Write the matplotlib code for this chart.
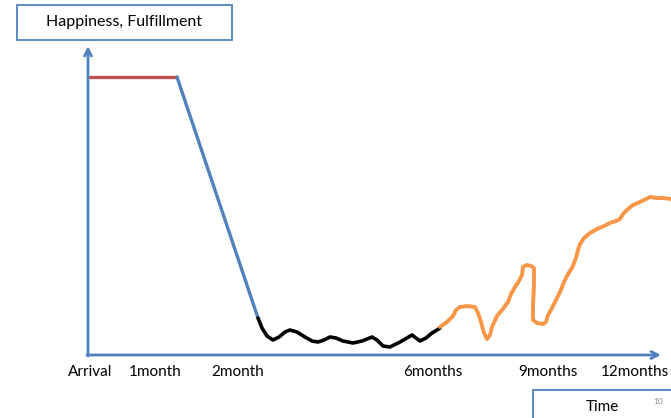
import matplotlib.pyplot as plt
from matplotlib.patches import Rectangle

# time / happiness values (origin = arrival, axis units)
tick_labels = ['Arrival', '1month', '2month', '6months', '9months', '12months']
tick_pos = [2, 67, 150, 345, 460, 547]

honeymoon = [(2, 278), (89, 278)]
crash = [(89, 278), (170, 37)]
bottom = [(170, 37), (174, 27), (179, 19), (185, 15), (191, 18), (197, 23), (202, 25),
          (209, 23), (217, 18), (224, 14), (230, 13), (236, 15), (242, 18), (248, 17),
          (255, 14), (265, 12), (274, 14), (284, 18), (289, 15), (295, 9), (302, 8),
          (312, 13), (324, 20), (328, 17), (332, 14), (338, 17), (344, 22), (349, 25),
          (352, 27)]
recovery = [(352, 28), (359, 33), (365, 39), (368, 45), (372, 48), (379, 49), (387, 48),
            (390, 42), (393, 33), (396, 22), (399, 16), (402, 20), (404, 28), (409, 39),
            (414, 45), (420, 53), (423, 61), (427, 68), (431, 74), (434, 80), (435, 88),
            (439, 90), (443, 89), (446, 87), (446, 70), (445, 50), (445, 35), (449, 32),
            (455, 31), (458, 33), (460, 40), (464, 47), (468, 55), (472, 63), (476, 73),
            (480, 81), (484, 87), (488, 97), (490, 105), (492, 111), (496, 117), (502, 122),
            (509, 126), (516, 129), (522, 132), (528, 134), (532, 136), (535, 141),
            (540, 146), (545, 150), (552, 153), (558, 156), (562, 158), (569, 157),
            (575, 157), (583, 156)]

blue = '#4f81bd'

fig = plt.figure(figsize=(6.71, 4.18), dpi=100)
ax = fig.add_axes([0, 0, 1, 1])
ax.set_xlim(-88, 583)
ax.set_ylim(-63, 355)
ax.axis('off')

# axes arrows
arr = dict(arrowstyle='->,head_length=0.5,head_width=0.25', color=blue, lw=2, shrinkA=0, shrinkB=0)
ax.annotate('', xy=(0, 309), xytext=(0, -1), arrowprops=arr)
ax.annotate('', xy=(573, 0), xytext=(-1, 0), arrowprops=arr)

def draw(pts, color, lw):
    ax.plot([p[0] for p in pts], [p[1] for p in pts], color=color, lw=lw,
            solid_capstyle='round', solid_joinstyle='round')

draw(honeymoon, '#c0504d', 2.4)
draw(crash, blue, 2.4)
draw(bottom, 'black', 2.6)
draw(recovery, '#f79646', 2.8)

for lab, x in zip(tick_labels, tick_pos):
    ax.text(x, -17, lab, ha='center', va='center', fontsize=11, family='Lato')

# label boxes
ax.add_patch(Rectangle((-71, 315), 215, 35, fill=False, ec=blue, lw=1.3, clip_on=False))
ax.text(36, 333, 'Happiness, Fulfillment', ha='center', va='center', fontsize=11.5, family='Lato')
ax.add_patch(Rectangle((445, -80), 160, 45, fill=False, ec=blue, lw=1.3, clip_on=False))
ax.text(514, -52, 'Time', ha='center', va='center', fontsize=11, family='Lato')
ax.text(570, -47, '10', ha='center', va='center', fontsize=6, color='#8c8c8c', family='Lato')

fig.savefig('out.png', dpi=100)
